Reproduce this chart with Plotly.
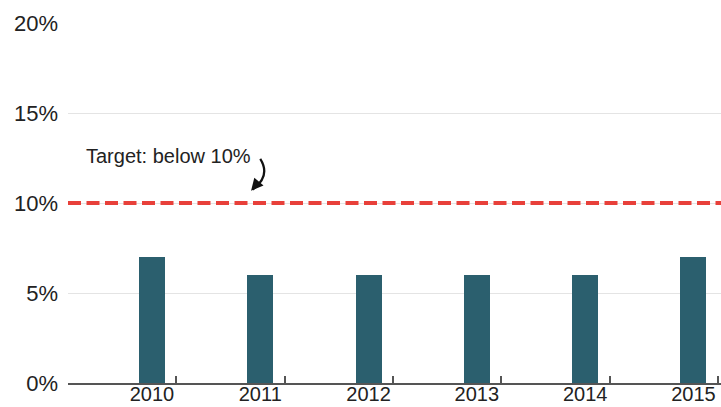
import plotly.graph_objects as go

# Share of population (percent) by year
years = [2010, 2011, 2012, 2013, 2014, 2015]
rates = [7, 6, 6, 6, 6, 7]
year_labels = ["2010", "2011", "2012", "2013", "2014", "2015"]
target = 10
y_ticks = [0, 5, 10, 15, 20]
y_tick_labels = ["0%", "5%", "10%", "15%", "20%"]

# tick marks sit just right of each bar, including one before the first year
tick_marks = [y + 0.225 for y in [years[0] - 1] + years]

BAR = "#2b5f6e"
RED = "#e8403a"
TXT = "#222222"
FONT = "Liberation Sans, Arial, sans-serif"

fig = go.Figure()
fig.add_trace(go.Bar(
    x=years, y=rates, width=0.24,
    marker=dict(color=BAR, line=dict(width=0)),
    hoverinfo="skip", showlegend=False,
))
# empty trace so the label axis gets drawn
fig.add_trace(go.Scatter(
    x=years, y=[None] * len(years), xaxis="x2", yaxis="y",
    mode="markers", showlegend=False, hoverinfo="skip",
))

x_range = [2009.225, 2015.254]

fig.update_layout(
    width=721, height=407,
    margin=dict(l=68, r=0, t=23, b=24),
    paper_bgcolor="white", plot_bgcolor="white",
    font=dict(family=FONT, color=TXT, size=21),
    xaxis=dict(
        range=x_range, tickvals=tick_marks, showticklabels=False,
        ticks="inside", ticklen=7, tickwidth=1.5, tickcolor="#555",
        showline=True, linecolor="#555", linewidth=1.5,
        showgrid=False, zeroline=False, fixedrange=True, automargin=False,
    ),
    xaxis2=dict(
        range=x_range, overlaying="x", anchor="y", side="bottom",
        tickvals=years, ticktext=year_labels, ticks="",
        tickfont=dict(size=20, color=TXT), ticklabelstandoff=-3,
        showline=False, showgrid=False, zeroline=False, fixedrange=True,
        automargin=False,
    ),
    yaxis=dict(
        range=[0, 20], tickvals=y_ticks, ticktext=y_tick_labels,
        tickfont=dict(size=22, color=TXT), ticks="",
        ticklabelstandoff=9,
        showgrid=True, gridcolor="#e4e4e4", gridwidth=1,
        zeroline=False, showline=False, fixedrange=True, automargin=False,
    ),
    bargap=0,
)

# target threshold line
fig.add_shape(
    type="line", xref="paper", yref="y", x0=0, x1=1, y0=target, y1=target,
    line=dict(color=RED, width=4, dash="13px,5.5px"), layer="above",
)

# label for the target
fig.add_annotation(
    x=2010.157, y=12.6, xref="x", yref="y",
    text="Target: below 10%", showarrow=False,
    font=dict(size=20, color=TXT, family=FONT),
    xanchor="center", yanchor="middle",
)

# curved pointer from the label down to the line
fig.add_shape(
    type="path", xref="x", yref="y",
    path="M 2011.0,12.45 Q 2011.1,11.5 2010.93,10.75",
    line=dict(color="#111", width=2.2),
)
fig.add_annotation(
    x=2010.915, y=10.68, xref="x", yref="y",
    ax=6, ay=-7, axref="pixel", ayref="pixel",
    text="", showarrow=True, arrowhead=2, arrowsize=1.1,
    arrowwidth=2.2, arrowcolor="#111",
)

fig.write_html("out.html")
